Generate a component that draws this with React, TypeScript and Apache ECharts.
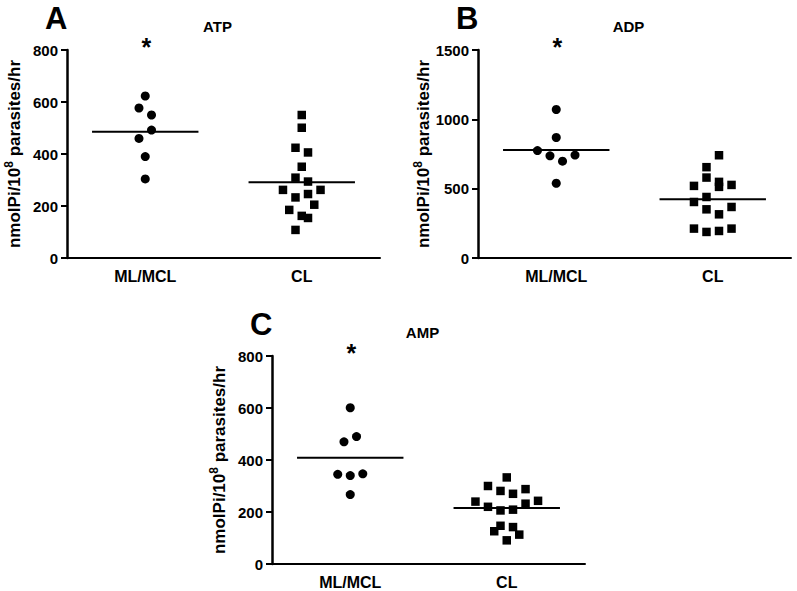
import React, { useEffect, useRef } from "react";
import * as echarts from "echarts";

const categories = ["ML/MCL", "CL"];
const panelLetters = ["A", "B", "C"];
const panelTitles = ["ATP", "ADP", "AMP"];
const yMaxes = [800, 1500, 800];
const yIntervals = [200, 500, 200];
const significance = ["*", "*", "*"];

// each point: [horizontal jitter step, value]
const atpML = [[0, 623], [-1, 577], [1, 550], [1, 492], [-1, 460], [0, 390], [0, 304]];
const atpCL = [[0, 550], [0, 501], [-1, 424], [1, 406], [0, 351], [-1, 309], [1, 294], [-3, 262], [3, 262], [-1, 233], [1, 246], [2, 205], [-2, 185], [0, 162], [1, 154], [-1, 108]];
const adpML = [[0, 1071], [0, 869], [-3, 775], [-1, 737], [3, 742], [1, 698], [0, 539]];
const adpCL = [[1, 741], [-1, 655], [-1, 580], [-3, 520], [1, 549], [1, 513], [3, 527], [-3, 404], [-1, 440], [-1, 351], [3, 368], [1, 315], [-3, 212], [-1, 188], [1, 195], [3, 212]];
const ampML = [[0, 601], [-1, 470], [1, 490], [-2, 345], [0, 340], [2, 347], [0, 267]];
const ampCL = [[0, 333], [-3, 300], [-1, 281], [1, 270], [3, 288], [-5, 240], [5, 243], [-3, 220], [3, 232], [-1, 206], [1, 209], [-1, 147], [1, 142], [-2, 126], [2, 113], [0, 91]];

const meansML = [486, 778, 409];
const meansCL = [291, 424, 215];

const panelsML = [atpML, adpML, ampML];
const panelsCL = [atpCL, adpCL, ampCL];

const JITTER_STEP = 0.04;
const MEAN_HALF = 0.34;

const grids = [
  { left: 67, top: 50, width: 313, height: 208 },
  { left: 478, top: 50, width: 313, height: 208 },
  { left: 272, top: 356, width: 313, height: 208 },
];

const FONT = "Liberation Sans, Arial, sans-serif";

export default function App() {
  const ref = useRef<HTMLDivElement>(null);

  useEffect(() => {
    if (!ref.current) return;
    const chart = echarts.init(ref.current, null, { renderer: "svg" });

    const xAxis: any[] = [];
    const yAxis: any[] = [];
    const series: any[] = [];
    const graphic: any[] = [];

    grids.forEach((g, i) => {
      xAxis.push({
        type: "category",
        gridIndex: i,
        data: categories,
        boundaryGap: true,
        axisLine: { onZero: false, lineStyle: { color: "#000", width: 2 } },
        axisTick: { alignWithLabel: true, length: 6, lineStyle: { color: "#000", width: 2 } },
        axisLabel: { color: "#000", fontWeight: "bold", fontSize: 16, fontFamily: FONT, margin: 10 },
        splitLine: { show: false },
      });
      xAxis.push({
        type: "value",
        gridIndex: i,
        min: 0.5,
        max: 2.5,
        show: false,
      });
      yAxis.push({
        type: "value",
        gridIndex: i,
        min: 0,
        max: yMaxes[i],
        interval: yIntervals[i],
        axisLine: { show: true, onZero: false, lineStyle: { color: "#000", width: 2.5 } },
        axisTick: { show: true, length: 6, lineStyle: { color: "#000", width: 2 } },
        axisLabel: {
          color: "#000",
          fontWeight: "bold",
          fontSize: 15,
          fontFamily: FONT,
          margin: 9,
          formatter: (v: number) => String(v),
        },
        splitLine: { show: false },
        name: "{a|nmolPi/10}{s|8}{a| parasites/hr}",
        nameLocation: "middle",
        nameRotate: 90,
        nameGap: 44,
        nameTextStyle: {
          rich: {
            a: { fontSize: 17, fontWeight: "bold", fontFamily: FONT, color: "#000", lineHeight: 20, verticalAlign: "bottom" },
            s: { fontSize: 12, fontWeight: "bold", fontFamily: FONT, color: "#000", lineHeight: 20, verticalAlign: "top" },
          },
        },
      });

      const xi = i * 2 + 1;
      series.push({
        type: "scatter",
        xAxisIndex: xi,
        yAxisIndex: i,
        symbol: "circle",
        symbolSize: 9,
        itemStyle: { color: "#000", opacity: 1 },
        data: panelsML[i].map(([s, v]) => [1 + s * JITTER_STEP, v]),
        z: 3,
      });
      series.push({
        type: "scatter",
        xAxisIndex: xi,
        yAxisIndex: i,
        symbol: "rect",
        symbolSize: 8.5,
        itemStyle: { color: "#000", opacity: 1 },
        data: panelsCL[i].map(([s, v]) => [2 + s * JITTER_STEP, v]),
        z: 3,
      });
      series.push({
        type: "line",
        xAxisIndex: xi,
        yAxisIndex: i,
        symbol: "none",
        lineStyle: { color: "#000", width: 2 },
        data: [[1 - MEAN_HALF, meansML[i]], [1 + MEAN_HALF, meansML[i]]],
        z: 2,
      });
      series.push({
        type: "line",
        xAxisIndex: xi,
        yAxisIndex: i,
        symbol: "none",
        lineStyle: { color: "#000", width: 2 },
        data: [[2 - MEAN_HALF, meansCL[i]], [2 + MEAN_HALF, meansCL[i]]],
        z: 2,
      });

      // panel letter
      graphic.push({
        type: "text",
        left: g.left - 22,
        top: g.top - 47,
        style: { text: panelLetters[i], fontSize: 31, fontWeight: "bold", fontFamily: FONT, fill: "#000" },
      });
      // title
      graphic.push({
        type: "text",
        x: g.left + g.width / 2 - 6,
        y: g.top - 24,
        style: { text: panelTitles[i], fontSize: 15, fontWeight: "bold", fontFamily: FONT, fill: "#000", align: "center", verticalAlign: "middle" },
      });
      // significance marker above ML/MCL
      graphic.push({
        type: "text",
        x: g.left + g.width / 4 + 1,
        y: g.top - 3,
        style: { text: significance[i], fontSize: 25, fontWeight: "bold", fontFamily: FONT, fill: "#000", align: "center", verticalAlign: "middle" },
      });
    });

    chart.setOption({
      animation: false,
      backgroundColor: "#fff",
      grid: grids.map((g) => ({ ...g, containLabel: false })),
      xAxis,
      yAxis,
      series,
      graphic,
    });

    return () => chart.dispose();
  }, []);

  return (
    <div
      ref={ref}
      style={{ position: "fixed", left: 0, top: 0, width: 797, height: 591, background: "#fff" }}
    />
  );
}
